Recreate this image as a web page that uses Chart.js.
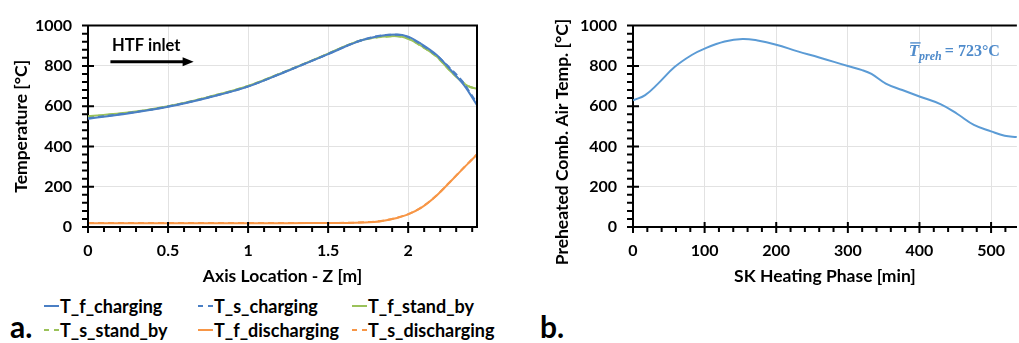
<!DOCTYPE html>
<html><head><meta charset="utf-8">
<script src="https://cdn.jsdelivr.net/npm/chart.js@4.4.0/dist/chart.umd.min.js"></script>
<style>
html,body{margin:0;padding:0;background:#fff;width:1019px;height:343px;overflow:hidden;}
#wrap{position:relative;width:1019px;height:343px;font-family:Lato,'Open Sans',sans-serif;}
#cA{position:absolute;left:0;top:0;}
#cB{position:absolute;left:510px;top:0;}
.lbl{position:absolute;font-weight:700;font-size:30px;line-height:30px;color:#000;}
.li{position:absolute;height:20px;line-height:20px;display:flex;align-items:center;font-weight:700;font-size:18px;white-space:nowrap;color:#000;}
.li svg{display:block;margin-right:1px;}
</style></head><body>
<div id="wrap">
<canvas id="cA" width="510" height="290"></canvas>
<canvas id="cB" width="509" height="290"></canvas>
<div id="legend"></div>
<div class="lbl" style="left:10px;top:311px;">a.</div>
<div class="lbl" style="left:540px;top:311px;">b.</div>
</div>
<script>
// ---------- data: chart a (axial temperature profiles) ----------
const zLoc = [0, 0.25, 0.5, 0.75, 1.0, 1.25, 1.5, 1.62, 1.72, 1.83, 1.93, 2.0, 2.08, 2.18, 2.26, 2.35, 2.39, 2.43];
const tfCharging    = [537, 564, 597, 642, 697, 776, 858, 900, 930, 950, 956, 945, 910, 853, 785, 703, 656, 605];
const tsCharging    = [540, 566, 598, 643, 698, 777, 859, 901, 931, 951, 955, 943, 906, 850, 790, 712, 662, 615];
const tfStandBy     = [550, 568, 600, 645, 700, 778, 861, 903, 930, 944, 948, 935, 900, 845, 777, 711, 694, 687];
const tsStandBy     = [548, 567, 599, 645, 700, 778, 860, 902, 929, 943, 947, 934, 899, 844, 778, 713, 695, 686];
const tfDischarging = [19, 19, 19, 19, 19, 19, 20, 20, 22, 29, 45, 63, 95, 158, 222, 296, 328, 360];
const tsDischarging = [20, 20, 20, 20, 20, 20, 20, 21, 23, 30, 46, 64, 96, 159, 223, 297, 329, 361];
const zTicks = [0, 0.5, 1, 1.5, 2];
const tempTicks = [0, 200, 400, 600, 800, 1000];

// ---------- data: chart b (preheated air temperature) ----------
const tMin    = [0, 17, 35, 58, 82, 100, 128, 153, 174, 200, 230, 260, 300, 320, 333, 353, 376, 400, 430, 453, 476, 500, 519, 536];
const airTemp = [629, 655, 712, 794, 854, 886, 921, 934, 926, 905, 872, 842, 799, 779, 760, 712, 680, 648, 609, 561, 507, 475, 453, 447];
const minTicks = [0, 100, 200, 300, 400, 500];
const meanLabel = '723°C';

// ---------- styles ----------
const BLUE = '#4a7fc4', GREEN = '#9bc25a', ORANGE = '#f79646', AIRBLUE = '#5b9bd5';
const seriesA = [
  {label: 'T_f_charging',    data: tfCharging,    color: BLUE,   dash: []},
  {label: 'T_s_charging',    data: tsCharging,    color: BLUE,   dash: [6, 4]},
  {label: 'T_f_stand_by',    data: tfStandBy,     color: GREEN,  dash: []},
  {label: 'T_s_stand_by',    data: tsStandBy,     color: GREEN,  dash: [6, 4]},
  {label: 'T_f_discharging', data: tfDischarging, color: ORANGE, dash: []},
  {label: 'T_s_discharging', data: tsDischarging, color: ORANGE, dash: [6, 4]}
];

Chart.defaults.font.family = "Lato, 'Open Sans', sans-serif";
Chart.defaults.font.size = 16;
Chart.defaults.font.weight = 'bold';
Chart.defaults.color = '#000';

const GRID = '#e2e2e2';
const TITLE_FONT = {size: 17.5, weight: 'bold'};

const framePlugin = {
  id: 'frame',
  afterDatasetsDraw(chart, args, o) {
    const {ctx, chartArea: a, scales: {x, y}} = chart;
    ctx.save();
    ctx.strokeStyle = '#000';
    ctx.lineWidth = 2;
    ctx.beginPath();
    ctx.moveTo(a.left - 1, a.top);
    ctx.lineTo(a.right + (o.right ? 1 : 0), a.top);
    if (o.right) { ctx.moveTo(a.right, a.top); ctx.lineTo(a.right, a.bottom + 1); }
    const nx = Math.floor((x.max - x.min) / o.xMinor + 1e-6);
    for (let i = 0; i <= nx; i++) {
      const px = x.getPixelForValue(x.min + i * o.xMinor);
      if (i % o.xPer === 0) { ctx.moveTo(px, a.bottom - 5); ctx.lineTo(px, a.bottom + 6); }
      else { ctx.moveTo(px, a.bottom); ctx.lineTo(px, a.bottom + 5); }
    }
    const ny = Math.floor((y.max - y.min) / o.yMinor + 1e-6);
    for (let i = 0; i <= ny; i++) {
      const py = y.getPixelForValue(y.min + i * o.yMinor);
      if (i % o.yPer === 0) { ctx.moveTo(a.left - 6, py); ctx.lineTo(a.left + 6, py); }
      else { ctx.moveTo(a.left - 6, py); ctx.lineTo(a.left, py); }
    }
    ctx.stroke();
    ctx.restore();
  }
};

// annotation anchors (data coordinates)
const htfTextAt = {x: 0.15, y: 900};
const htfArrow = {x0: 0.14, x1: 0.66, y: 820};
const meanAt = {x: 385, y: 847};

const htfPlugin = {
  id: 'htf',
  afterDatasetsDraw(chart) {
    const {ctx, scales: {x, y}} = chart;
    ctx.save();
    ctx.fillStyle = '#000';
    ctx.strokeStyle = '#000';
    ctx.font = "bold 16.5px Lato, 'Open Sans', sans-serif";
    ctx.textBaseline = 'middle';
    ctx.textAlign = 'left';
    ctx.fillText('HTF inlet', x.getPixelForValue(htfTextAt.x), y.getPixelForValue(htfTextAt.y));
    const x0 = x.getPixelForValue(htfArrow.x0), x1 = x.getPixelForValue(htfArrow.x1), py = y.getPixelForValue(htfArrow.y);
    ctx.lineWidth = 3;
    ctx.beginPath(); ctx.moveTo(x0, py); ctx.lineTo(x1 - 8, py); ctx.stroke();
    ctx.beginPath(); ctx.moveTo(x1, py); ctx.lineTo(x1 - 11, py - 4.5); ctx.lineTo(x1 - 11, py + 4.5); ctx.closePath(); ctx.fill();
    ctx.restore();
  }
};

const meanPlugin = {
  id: 'mean',
  afterDatasetsDraw(chart) {
    const {ctx, scales: {x, y}} = chart;
    ctx.save();
    const col = '#4f8bcb';
    ctx.fillStyle = col; ctx.strokeStyle = col;
    ctx.textBaseline = 'alphabetic'; ctx.textAlign = 'left';
    let px = x.getPixelForValue(meanAt.x), py = y.getPixelForValue(meanAt.y);
    ctx.font = "italic bold 17px 'Liberation Serif', 'DejaVu Serif', serif";
    ctx.fillText('T', px, py);
    const wT = ctx.measureText('T').width;
    ctx.lineWidth = 1.4;
    ctx.beginPath(); ctx.moveTo(px + 1.5, py - 13.5); ctx.lineTo(px + wT + 1.5, py - 13.5); ctx.stroke();
    px += wT;
    ctx.font = "italic bold 12px 'Liberation Serif', 'DejaVu Serif', serif";
    ctx.fillText('preh', px, py + 3.5);
    px += ctx.measureText('preh').width + 3;
    ctx.font = "bold 16px 'Liberation Serif', 'DejaVu Serif', serif";
    ctx.fillText('= ' + meanLabel, px, py);
    // rotated y-axis title
    ctx.fillStyle = '#000';
    ctx.font = "bold 17.5px Lato, 'Open Sans', sans-serif";
    ctx.translate(52.5, 142);
    ctx.rotate(-Math.PI / 2);
    ctx.textAlign = 'center'; ctx.textBaseline = 'middle';
    ctx.fillText('Preheated Comb. Air Temp. [°C]', 0, 0);
    ctx.restore();
  }
};

function fixedTicks(arr) { return (scale) => { scale.ticks = arr.map(v => ({value: v})); }; }

new Chart(document.getElementById('cA'), {
  type: 'line',
  data: {
    datasets: seriesA.map(s => ({
      label: s.label,
      data: zLoc.map((z, i) => ({x: z, y: s.data[i]})),
      borderColor: s.color,
      backgroundColor: s.color,
      borderDash: s.dash,
      borderWidth: 2,
      pointRadius: 0,
      cubicInterpolationMode: 'monotone',
      fill: false
    }))
  },
  options: {
    responsive: false, animation: false, devicePixelRatio: 1,
    layout: {padding: {top: 16, right: 33, left: 0, bottom: 0}},
    plugins: {legend: {display: false}, tooltip: {enabled: false},
      frame: {right: true, xMinor: 0.1, xPer: 5, yMinor: 40, yPer: 5}},
    scales: {
      x: {
        type: 'linear', min: 0, max: 2.43,
        afterBuildTicks: fixedTicks(zTicks),
        afterFit: (s) => { s.height = 63; },
        grid: {color: GRID, lineWidth: 1, drawTicks: false},
        border: {display: true, color: '#000', width: 2},
        ticks: {padding: 14, maxRotation: 0, callback: v => String(v)},
        title: {display: true, text: 'Axis Location - Z [m]', padding: {top: 0, bottom: 3}, font: TITLE_FONT}
      },
      y: {
        type: 'linear', min: 0, max: 1000,
        afterBuildTicks: fixedTicks(tempTicks),
        afterFit: (s) => { s.width = 88; },
        grid: {color: GRID, lineWidth: 1, drawTicks: false},
        border: {display: true, color: '#000', width: 2},
        ticks: {padding: 16, callback: v => String(v)},
        title: {display: true, text: 'Temperature [°C]', padding: {top: 10.5, bottom: 0}, font: TITLE_FONT}
      }
    }
  },
  plugins: [framePlugin, htfPlugin]
});

new Chart(document.getElementById('cB'), {
  type: 'line',
  data: {
    datasets: [{
      label: 'Preheated air',
      data: tMin.map((t, i) => ({x: t, y: airTemp[i]})),
      borderColor: AIRBLUE, backgroundColor: AIRBLUE,
      borderWidth: 2, pointRadius: 0, tension: 0.4, fill: false
    }]
  },
  options: {
    responsive: false, animation: false, devicePixelRatio: 1,
    layout: {padding: {top: 16, right: 0, left: 0, bottom: 0}},
    plugins: {legend: {display: false}, tooltip: {enabled: false},
      frame: {right: false, xMinor: 20, xPer: 5, yMinor: 40, yPer: 5}},
    scales: {
      x: {
        type: 'linear', min: 0, max: 536,
        afterBuildTicks: fixedTicks(minTicks),
        afterFit: (s) => { s.height = 63; },
        grid: {color: GRID, lineWidth: 1, drawTicks: false},
        border: {display: true, color: '#000', width: 2},
        ticks: {padding: 14, maxRotation: 0, callback: v => String(v)},
        title: {display: true, text: 'SK Heating Phase [min]', padding: {top: 0, bottom: 3}, font: TITLE_FONT}
      },
      y: {
        type: 'linear', min: 0, max: 1000,
        afterBuildTicks: fixedTicks(tempTicks),
        afterFit: (s) => { s.width = 123; },
        grid: {color: GRID, lineWidth: 1, drawTicks: false},
        border: {display: true, color: '#000', width: 2},
        ticks: {padding: 16, callback: v => String(v)},
        title: {display: false}
      }
    }
  },
  plugins: [framePlugin, meanPlugin]
});

// HTML legend built from the series definitions
const legendCols = [44, 198, 352];
const legendRows = [306, 330];
const leg = document.getElementById('legend');
seriesA.forEach((s, i) => {
  const col = i % 3, row = Math.floor(i / 3);
  const d = document.createElement('div');
  d.className = 'li';
  d.style.left = legendCols[col] + 'px';
  d.style.top = (legendRows[row] - 10) + 'px';
  const dashAttr = s.dash.length ? 'stroke-dasharray="5 5"' : '';
  d.innerHTML = '<svg width="15" height="4"><line x1="0" y1="2" x2="15" y2="2" stroke="' + s.color + '" stroke-width="2" ' + dashAttr + '/></svg>';
  const span = document.createElement('span');
  span.textContent = s.label;
  d.appendChild(span);
  leg.appendChild(d);
});
</script>
</body></html>
